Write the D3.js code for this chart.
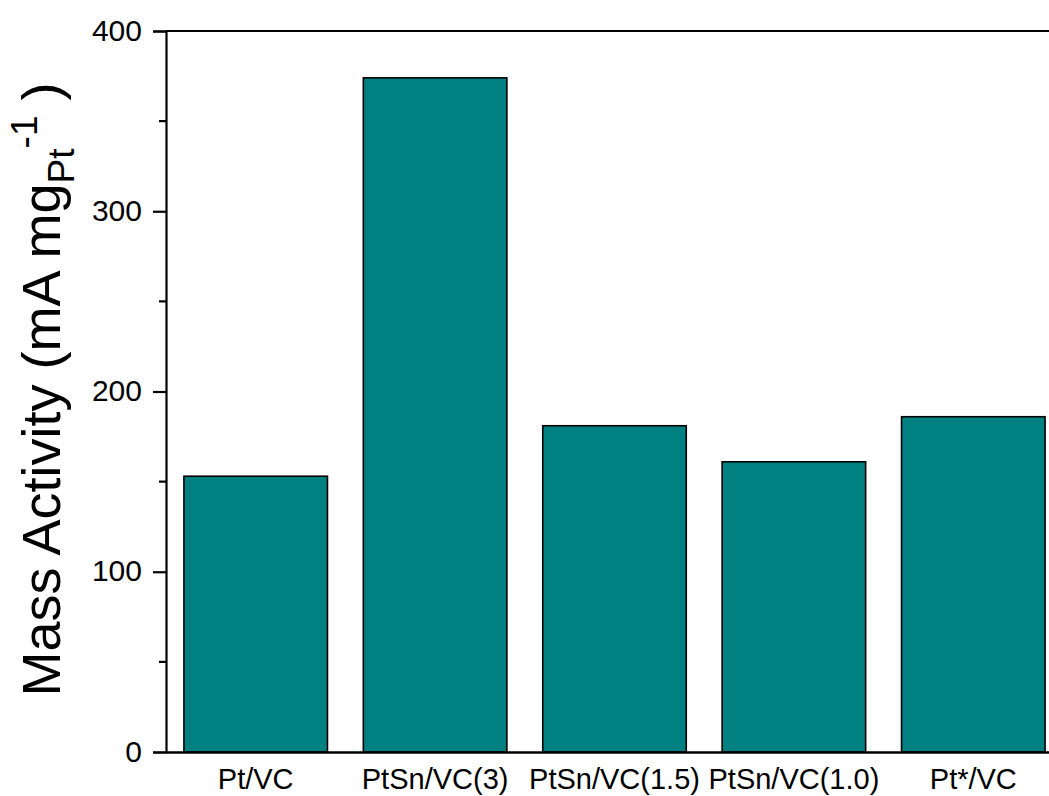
<!DOCTYPE html>
<html>
<head>
<meta charset="utf-8">
<script src="https://cdn.jsdelivr.net/npm/d3@7"></script>
<style>
  html, body { margin: 0; padding: 0; background: #fff; }
  svg { display: block; }
  text { font-family: "Liberation Sans", Arial, sans-serif; fill: #000; }
</style>
</head>
<body>
<svg id="chart" width="1049" height="796"></svg>
<script>
// Mass activity of each catalyst
const categories = ["Pt/VC", "PtSn/VC(3)", "PtSn/VC(1.5)", "PtSn/VC(1.0)", "Pt*/VC"];
const massActivity = [153, 374, 181, 161, 186];
const yTicks = [0, 100, 200, 300, 400];
const yMinorTicks = [50, 150, 250, 350];

const svg = d3.select("#chart");
const plotLeft = 166, plotRight = 1063, plotTop = 31, plotBottom = 752;

const x = d3.scaleBand()
  .domain(categories)
  .range([plotLeft, plotRight])
  .paddingInner(0.2)
  .paddingOuter(0.1);

const y = d3.scaleLinear().domain([0, 400]).range([plotBottom, plotTop]);

// bars
svg.append("g")
  .selectAll("rect")
  .data(categories)
  .join("rect")
  .attr("x", d => x(d))
  .attr("width", x.bandwidth())
  .attr("y", (d, i) => y(massActivity[i]))
  .attr("height", (d, i) => y(0) - y(massActivity[i]))
  .attr("fill", "#008080")
  .attr("stroke", "#000")
  .attr("stroke-width", 1.6);

// left axis
const yAxis = svg.append("g")
  .attr("transform", `translate(${plotLeft},0)`)
  .call(d3.axisLeft(y).tickValues(yTicks).tickSize(13).tickPadding(11));
yAxis.select(".domain").attr("stroke-width", 2.2);
yAxis.selectAll(".tick line").attr("stroke-width", 2.2);
yAxis.selectAll(".tick text")
  .attr("font-size", 30)
  .attr("dy", "0.3em")
  .style("font-family", "'Liberation Sans', Arial, sans-serif");

// minor ticks
svg.append("g")
  .selectAll("line")
  .data(yMinorTicks)
  .join("line")
  .attr("x1", plotLeft - 7).attr("x2", plotLeft)
  .attr("y1", d => y(d)).attr("y2", d => y(d))
  .attr("stroke", "#000").attr("stroke-width", 2.2);

// bottom axis
const xAxis = svg.append("g")
  .attr("transform", `translate(0,${plotBottom})`)
  .call(d3.axisBottom(x).tickSize(0).tickPadding(16));
xAxis.select(".domain").attr("stroke-width", 2.6);
xAxis.selectAll(".tick text")
  .attr("font-size", 29)
  .attr("dy", "0.71em")
  .style("font-family", "'Liberation Sans', Arial, sans-serif");

// top frame line
svg.append("line")
  .attr("x1", plotLeft).attr("x2", plotRight)
  .attr("y1", plotTop).attr("y2", plotTop)
  .attr("stroke", "#000").attr("stroke-width", 2.2);

// y-axis title with subscript and superscript
const title = svg.append("text")
  .attr("transform", `translate(60,${(plotTop + plotBottom) / 2 - 2}) rotate(-90)`)
  .attr("text-anchor", "middle")
  .attr("font-size", 54);
title.append("tspan").text("Mass Activity (mA mg");
title.append("tspan").attr("font-size", 37).attr("dy", 14).text("Pt");
title.append("tspan").attr("font-size", 37).attr("dy", -37).text("-1");
title.append("tspan").attr("dy", 23).text(" )");
</script>
</body>
</html>
